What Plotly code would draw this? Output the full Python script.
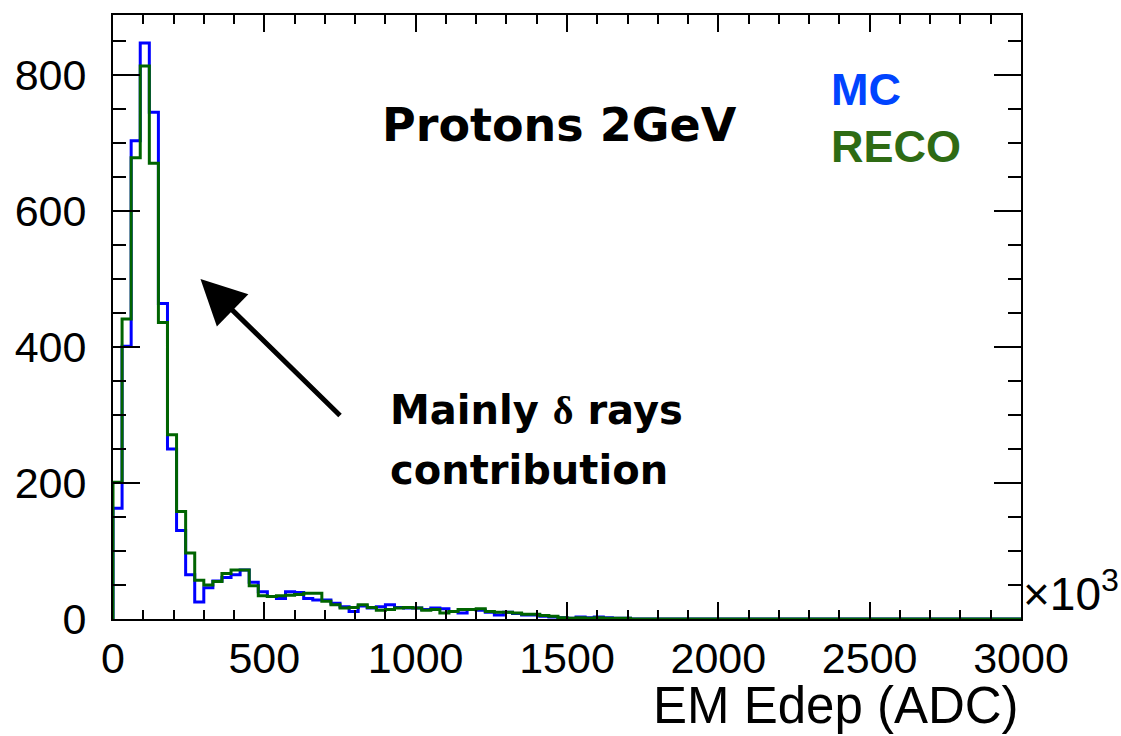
import plotly.graph_objects as go

# Histogram binning: 100 bins of width 30 over [0, 3000] (x10^3 ADC)
bin_width = 30
n_bins = 100
edges = [i * bin_width for i in range(n_bins + 1)]

# Bin contents (counts), first 57 bins; the rest are empty
mc_counts = [163, 401, 703, 847, 745, 464, 250, 130, 65, 25,
             46, 56, 61, 65, 72, 54, 40, 33, 30, 40,
             39, 30, 28, 28, 23, 18, 11, 19, 16, 18,
             21, 17, 16, 16, 14, 16, 15, 11, 9, 14,
             13, 10, 6, 10, 8, 6, 6, 4, 3, 2,
             1, 3, 2, 3, 2, 1, 1]
reco_counts = [201, 441, 678, 813, 670, 436, 271, 158, 97, 57,
               50, 55, 67, 72, 72, 49, 34, 33, 34, 35,
               36, 38, 38, 26, 21, 16, 17, 21, 17, 13,
               14, 16, 17, 16, 13, 14, 9, 11, 14, 14,
               15, 11, 10, 10, 9, 7, 7, 5, 4, 2,
               1, 2, 1, 2, 1, 1, 1]
mc_counts += [0] * (n_bins - len(mc_counts))
reco_counts += [0] * (n_bins - len(reco_counts))

x_ticks = [0, 500, 1000, 1500, 2000, 2500, 3000]
y_ticks = [0, 200, 400, 600, 800]


def step_points(counts):
    # ROOT-style outline: rise from the baseline at the first edge
    xs = [edges[0]] + edges
    ys = [0] + counts + [counts[-1]]
    return xs, ys


fig = go.Figure()
for name, counts, color in [("MC", mc_counts, "#0000ff"),
                            ("RECO", reco_counts, "#006400")]:
    xs, ys = step_points(counts)
    fig.add_trace(go.Scatter(x=xs, y=ys, mode="lines", name=name,
                             line=dict(color=color, width=3, shape="hv"),
                             showlegend=False, hoverinfo="skip"))

tick_font = dict(family="Liberation Sans", size=43, color="black")
label_font = dict(family="DejaVu Sans", size=40, color="black", weight="bold")

fig.update_layout(
    width=1121, height=736,
    paper_bgcolor="white", plot_bgcolor="white",
    margin=dict(l=113, r=100, t=15, b=117),
    xaxis=dict(range=[0, 3000], tickvals=x_ticks, ticks="inside",
               ticklen=17, tickwidth=2, tickcolor="black",
               minor=dict(dtick=100, ticks="inside", ticklen=9, tickwidth=2, tickcolor="black"),
               showline=True, linewidth=2, linecolor="black", mirror="ticks",
               showgrid=False, zeroline=False, tickfont=tick_font,
               ticklabelstandoff=0),
    yaxis=dict(range=[0, 888], tickvals=y_ticks, ticks="inside",
               ticklen=27, tickwidth=2, tickcolor="black",
               minor=dict(dtick=50, ticks="inside", ticklen=13, tickwidth=2, tickcolor="black"),
               showline=True, linewidth=2, linecolor="black", mirror="ticks",
               showgrid=False, zeroline=False, tickfont=tick_font,
               ticklabelstandoff=16),
)

annotations = [
    dict(text="EM Edep (ADC)", xref="paper", yref="paper", x=1.0, y=-0.143,
         xanchor="right", yanchor="middle", showarrow=False,
         font=dict(family="Liberation Sans", size=51, color="black")),
    dict(text="×10<sup>3</sup>", xref="paper", yref="paper", x=1.0, y=-0.005,
         xanchor="left", yanchor="bottom", showarrow=False,
         font=dict(family="Liberation Sans", size=46, color="black")),
    dict(text="Protons 2GeV", xref="paper", yref="paper", x=0.294, y=0.818,
         xanchor="left", yanchor="middle", showarrow=False,
         font=dict(family="DejaVu Sans", size=46, color="black", weight="bold")),
    dict(text='Mainly <span style="font-family:Liberation Serif">δ</span> rays',
         xref="paper", yref="paper", x=0.303, y=0.346,
         xanchor="left", yanchor="middle", showarrow=False, font=label_font),
    dict(text="contribution", xref="paper", yref="paper", x=0.303, y=0.247,
         xanchor="left", yanchor="middle", showarrow=False, font=label_font),
    dict(text="MC", xref="paper", yref="paper", x=0.789, y=0.877,
         xanchor="left", yanchor="middle", showarrow=False,
         font=dict(family="Liberation Sans", size=45, color="#0044ff", weight="bold")),
    dict(text="RECO", xref="paper", yref="paper", x=0.789, y=0.783,
         xanchor="left", yanchor="middle", showarrow=False,
         font=dict(family="Liberation Sans", size=45, color="#2e6b14", weight="bold")),
    # arrow pointing at the low-energy peak
    dict(text="", x=289, y=500, ax=755, ay=297, xref="x", yref="y",
         axref="x", ayref="y", showarrow=True, arrowhead=2,
         arrowsize=1.8, arrowwidth=5, arrowcolor="black"),
]
fig.update_layout(annotations=annotations)

fig.write_html("out.html")
